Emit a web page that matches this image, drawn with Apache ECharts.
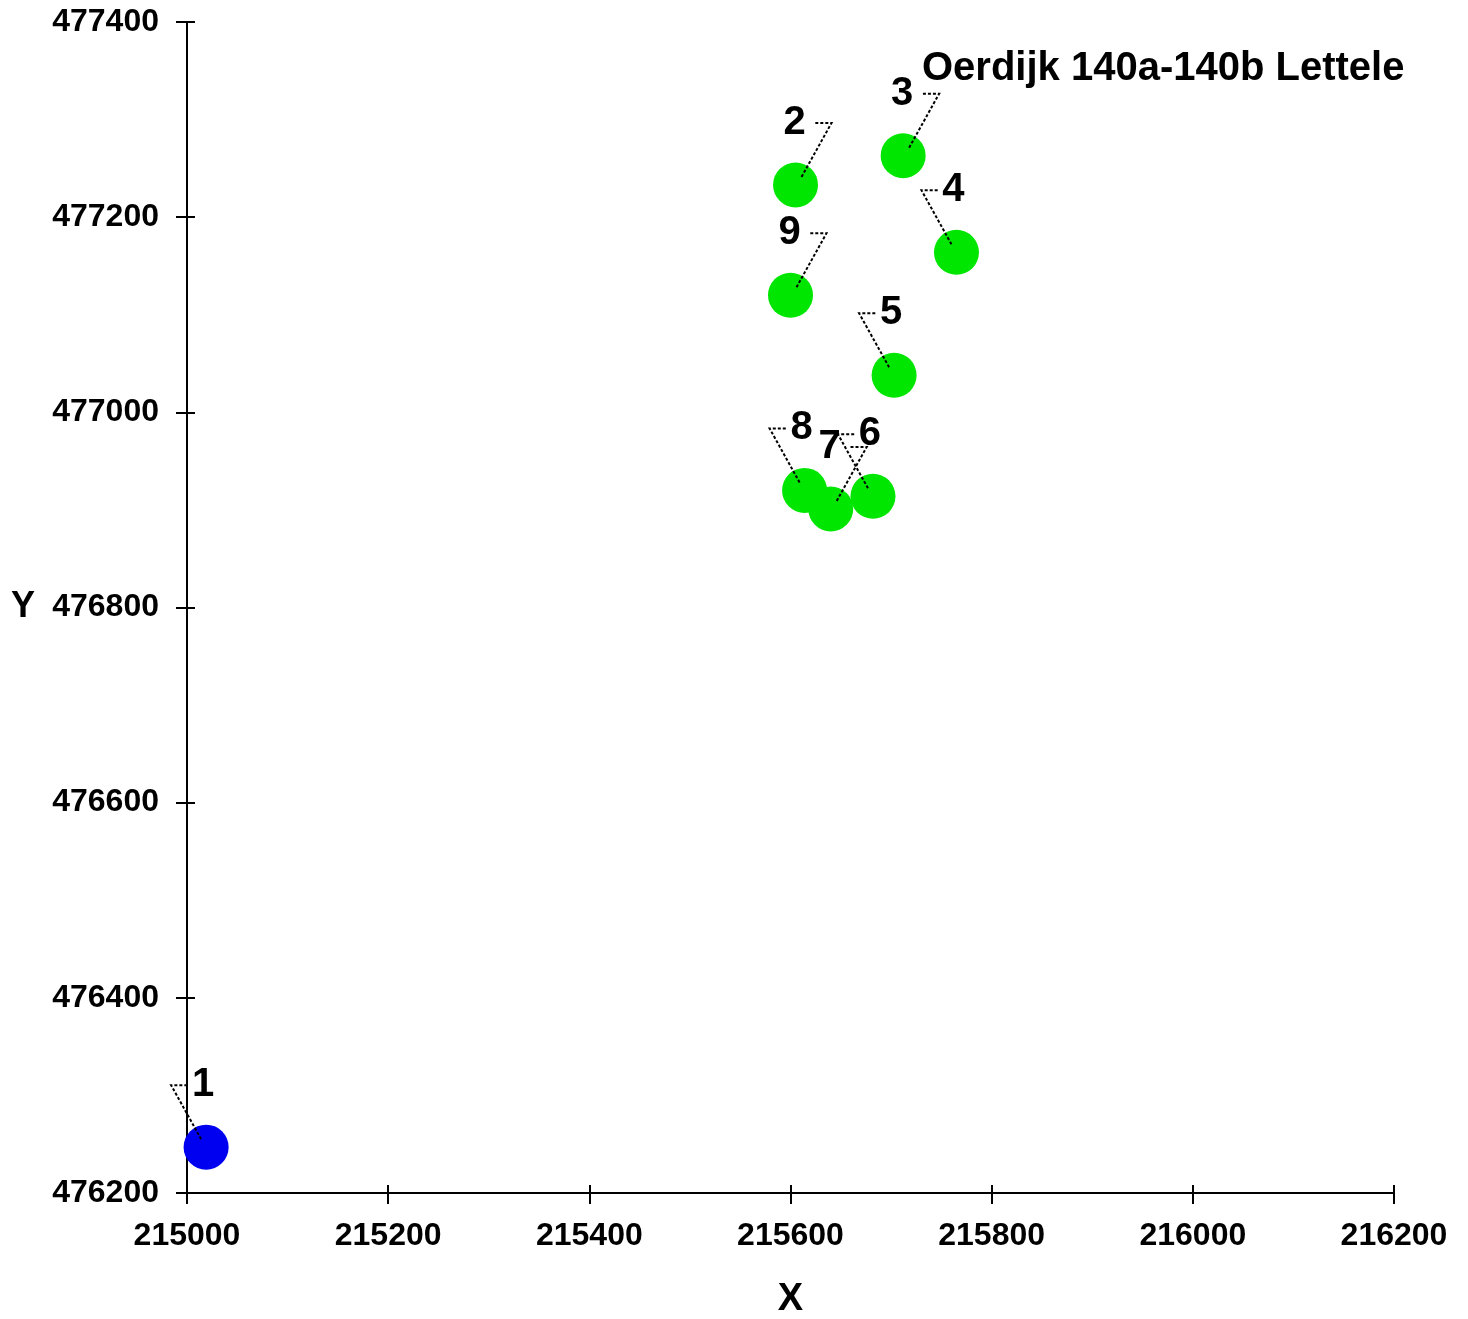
<!DOCTYPE html>
<html>
<head>
<meta charset="utf-8">
<script src="https://cdn.jsdelivr.net/npm/echarts@6/dist/echarts.min.js"></script>
<style>
html,body{margin:0;padding:0;background:#fff;}
#chart{width:1468px;height:1319px;}
</style>
</head>
<body>
<div id="chart"></div>
<script>
// ---- data ----
const pointLabels = ['1','2','3','4','5','6','7','8','9'];
const xValues = [215019, 215605, 215712, 215765, 215703, 215682, 215640, 215614, 215600];
const yValues = [476247, 477233, 477263, 477164, 477038, 476914, 476901, 476920, 477120];
const pointGroup = ['source','receiver','receiver','receiver','receiver','receiver','receiver','receiver','receiver'];
const chartTitle = 'Oerdijk 140a-140b Lettele';
const xName = 'X';
const yName = 'Y';
const xRange = [215000, 216200];
const yRange = [476200, 477400];
const tickStep = 200;

// ---- styling / layout ----
const FONT = "'Liberation Sans', Arial, sans-serif";
const groupColor = { source: '#0000f0', receiver: '#00e600' };
// leader direction per label: 1 = bends to the right, -1 = bends to the left
const leaderDir = { '1': -1, '2': 1, '3': 1, '4': -1, '5': -1, '6': -1, '7': 1, '8': -1, '9': 1 };

const chart = echarts.init(document.getElementById('chart'), null, { renderer: 'canvas' });

const scatterData = xValues.map((x, i) => ({
  value: [x, yValues[i]],
  itemStyle: { color: groupColor[pointGroup[i]], opacity: 1 }
}));
const labelData = xValues.map((x, i) => [x, yValues[i], leaderDir[pointLabels[i]], pointLabels[i]]);

const plainNum = v => String(v);

function baseAxis(extra) {
  return Object.assign({
    type: 'value',
    interval: tickStep,
    splitLine: { show: false },
    axisLine: { show: true, onZero: false, lineStyle: { color: '#000', width: 2 } },
    axisTick: { show: true, length: 11, lineStyle: { color: '#000', width: 2 } }
  }, extra);
}
function innerTickAxis(extra) {
  return Object.assign({
    type: 'value',
    interval: tickStep,
    splitLine: { show: false },
    axisLine: { show: true, onZero: false, lineStyle: { color: 'rgba(0,0,0,0)', width: 0 } },
    axisTick: { show: true, inside: true, length: 8, lineStyle: { color: '#000', width: 2 } },
    axisLabel: { show: false }
  }, extra);
}

const option = {
  backgroundColor: '#fff',
  animation: false,
  grid: { left: 187, right: 74, top: 22, bottom: 126, containLabel: false, outerBoundsMode: 'none' },
  xAxis: [
    baseAxis({
      min: xRange[0], max: xRange[1], position: 'bottom',
      name: xName, nameLocation: 'middle', nameGap: 88,
      nameTextStyle: { color: '#000', fontSize: 38, fontWeight: 'bold', fontFamily: FONT },
      axisLabel: { color: '#000', fontSize: 32, fontWeight: 'bold', fontFamily: FONT, margin: 27, formatter: plainNum }
    }),
    innerTickAxis({ min: xRange[0], max: xRange[1], position: 'bottom', offset: 0 })
  ],
  yAxis: [
    baseAxis({
      min: yRange[0], max: yRange[1], position: 'left',
      name: yName, nameLocation: 'middle', nameGap: 152, nameRotate: 0,
      nameTextStyle: { color: '#000', fontSize: 36, fontWeight: 'bold', fontFamily: FONT },
      axisLabel: { color: '#000', fontSize: 32, fontWeight: 'bold', fontFamily: FONT, margin: 28, formatter: plainNum }
    }),
    innerTickAxis({ min: yRange[0], max: yRange[1], position: 'left', offset: 0 })
  ],
  graphic: [{
    type: 'text',
    left: 922, top: 49,
    style: { text: chartTitle, fill: '#000', font: "bold 40px " + FONT }
  }],
  series: [
    {
      type: 'scatter',
      xAxisIndex: 0, yAxisIndex: 0,
      symbol: 'circle',
      symbolSize: 45,
      clip: true,
      data: scatterData,
      z: 2
    },
    {
      type: 'custom',
      xAxisIndex: 0, yAxisIndex: 0,
      clip: false,
      z: 5,
      data: labelData,
      renderItem: function (params, api) {
        const p = api.coord([api.value(0), api.value(1)]);
        const dir = api.value(2);
        const txt = labelData[params.dataIndex][3];
        const cx = p[0], cy = p[1];
        const pts = dir > 0
          ? [[cx + 6, cy - 8], [cx + 36, cy - 62], [cx + 19, cy - 62]]
          : [[cx - 5, cy - 8], [cx - 35, cy - 62], [cx - 17, cy - 62]];
        const tx = dir > 0 ? cx - 1 : cx - 3;
        return {
          type: 'group',
          children: [
            {
              type: 'polyline',
              shape: { points: pts },
              style: { stroke: '#000', lineWidth: 2, lineDash: [3, 2], fill: null }
            },
            {
              type: 'text',
              x: tx, y: cy - 62,
              style: {
                text: txt, fill: '#000',
                font: 'bold 40px ' + FONT,
                align: 'center', verticalAlign: 'middle'
              }
            }
          ]
        };
      }
    }
  ]
};
chart.setOption(option);
</script>
</body>
</html>
